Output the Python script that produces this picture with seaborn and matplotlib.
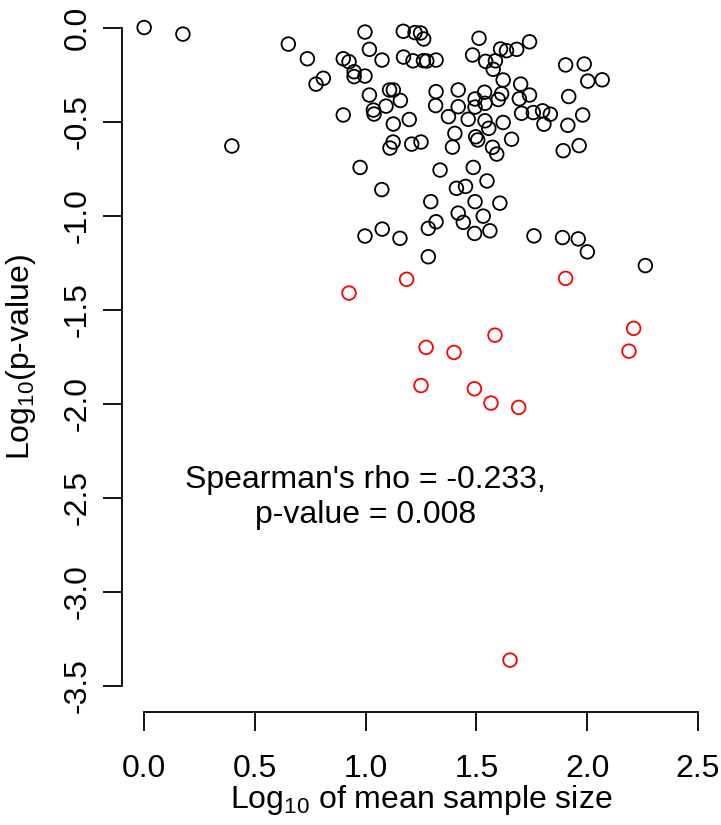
import numpy as np
import pandas as pd
import matplotlib
matplotlib.use("Agg")
import matplotlib.pyplot as plt
import seaborn as sns

# Non-significant studies (black)
ns_x = [0.000, 0.175, 0.396, 0.651, 0.737, 0.997, 1.170, 1.223, 1.248, 1.262,
        1.017, 1.074, 0.899, 0.925, 0.948, 0.948, 0.997, 0.809, 0.776, 1.171,
        1.214, 1.261, 1.276, 1.318, 1.017, 1.108, 1.125, 1.157, 1.318, 1.092,
        1.035, 1.038, 0.899, 1.125, 1.197, 1.316, 1.124, 1.110, 1.208, 1.250,
        0.975, 1.336, 1.073, 1.294, 1.318, 1.283, 1.075, 0.997, 1.155, 1.283,
        1.512, 1.483, 1.542, 1.609, 1.636, 1.586, 1.576, 1.682, 1.740, 1.621,
        1.700, 1.418, 1.537, 1.614, 1.740, 1.694, 1.599, 1.494, 1.903, 1.987,
        2.003, 2.068, 1.917, 1.418, 1.494, 1.539, 1.374, 1.463, 1.539, 1.556,
        1.621, 1.403, 1.497, 1.506, 1.659, 1.392, 1.573, 1.592, 1.704, 1.757,
        1.799, 1.834, 1.805, 1.913, 1.980, 1.892, 1.964, 1.486, 1.548, 1.410,
        1.451, 1.494, 1.606, 1.418, 1.531, 1.441, 1.492, 1.561, 1.760, 1.889,
        1.960, 2.001, 2.263]
ns_y = [0.000, -0.035, -0.630, -0.088, -0.166, -0.024, -0.020, -0.027, -0.029, -0.061,
        -0.116, -0.173, -0.166, -0.182, -0.235, -0.261, -0.258, -0.270, -0.301, -0.157,
        -0.177, -0.176, -0.178, -0.173, -0.359, -0.332, -0.332, -0.388, -0.341, -0.418,
        -0.439, -0.460, -0.465, -0.513, -0.489, -0.415, -0.609, -0.641, -0.620, -0.609,
        -0.744, -0.758, -0.862, -0.926, -1.033, -1.068, -1.072, -1.109, -1.121, -1.219,
        -0.057, -0.146, -0.180, -0.114, -0.123, -0.177, -0.222, -0.116, -0.076, -0.279,
        -0.301, -0.332, -0.344, -0.352, -0.359, -0.379, -0.383, -0.380, -0.199, -0.194,
        -0.285, -0.278, -0.367, -0.421, -0.423, -0.403, -0.474, -0.488, -0.496, -0.536,
        -0.505, -0.563, -0.581, -0.598, -0.594, -0.636, -0.637, -0.673, -0.456, -0.452,
        -0.443, -0.461, -0.514, -0.520, -0.465, -0.655, -0.628, -0.744, -0.816, -0.855,
        -0.845, -0.926, -0.934, -0.987, -1.003, -1.036, -1.095, -1.081, -1.108, -1.117,
        -1.124, -1.193, -1.266]

# Significant studies (red)
sig_x = [0.925, 1.185, 1.903, 2.210, 2.189, 1.584, 1.273, 1.399, 1.250, 1.491,
         1.566, 1.691, 1.652]
sig_y = [-1.412, -1.339, -1.334, -1.600, -1.721, -1.636, -1.701, -1.728, -1.904, -1.921,
         -1.997, -2.020, -3.364]

x_ticks = [0.0, 0.5, 1.0, 1.5, 2.0, 2.5]
y_ticks = [0.0, -0.5, -1.0, -1.5, -2.0, -2.5, -3.0, -3.5]
annotation = "Spearman's rho = -0.233,\np-value = 0.008"

sns.set_style("ticks")
plt.rcParams["font.family"] = ["Liberation Sans", "DejaVu Sans"]
plt.rcParams["mathtext.default"] = "regular"
plt.rcParams["text.color"] = "black"
plt.rcParams["axes.labelcolor"] = "black"
plt.rcParams["xtick.color"] = "black"
plt.rcParams["ytick.color"] = "black"
FS = 23

fig = plt.figure(figsize=(7.21, 8.25), dpi=100)
ax = fig.add_axes([122 / 721, (825 - 712) / 825, 598 / 721, 710.8 / 825])

df_ns = pd.DataFrame({"x": ns_x, "y": ns_y})
df_sig = pd.DataFrame({"x": sig_x, "y": sig_y})

sns.scatterplot(data=df_ns, x="x", y="y", ax=ax, color="black",
                facecolors="none", edgecolor="black", s=96, linewidth=1.3,
                legend=False, zorder=3)
sns.scatterplot(data=df_sig, x="x", y="y", ax=ax, color="red",
                facecolors="none", edgecolor="red", s=96, linewidth=1.3,
                legend=False, zorder=3)

ax.set_xlim(-0.1, 2.6)
ax.set_ylim(-3.64, 0.14)
ax.set_xticks(x_ticks)
ax.set_yticks(y_ticks)
ax.set_xticklabels([f"{v:.1f}" for v in x_ticks])
ax.set_yticklabels([f"{v:.1f}" for v in y_ticks])

for side in ["top", "right"]:
    ax.spines[side].set_visible(False)
ax.spines["left"].set_bounds(-3.5, 0.0)
ax.spines["bottom"].set_bounds(0.0, 2.5)
for side in ["left", "bottom"]:
    ax.spines[side].set_linewidth(1.3)
    ax.spines[side].set_color("black")

ax.tick_params(axis="both", direction="out", length=14, width=1.3,
               colors="black", labelcolor="black", labelsize=FS)
ax.tick_params(axis="x", pad=16)
ax.tick_params(axis="y", pad=7)
for lab in ax.get_yticklabels():
    lab.set_rotation(90)
    lab.set_va("center")

ax.set_xlabel("Log$_{10}$ of mean sample size", fontsize=FS, color="black")
ax.set_ylabel("Log$_{10}$(p-value)", fontsize=FS, color="black")
ax.xaxis.set_label_coords(0.5, -0.1)
ax.yaxis.set_label_coords(-0.14, 0.5)

ax.text(1.0, -2.5, annotation, ha="center", va="center", color="black",
        multialignment="center", fontsize=FS, linespacing=1.2)

ax.set_facecolor("white")
fig.patch.set_facecolor("white")
fig.savefig("out.png", dpi=100, facecolor="white")
